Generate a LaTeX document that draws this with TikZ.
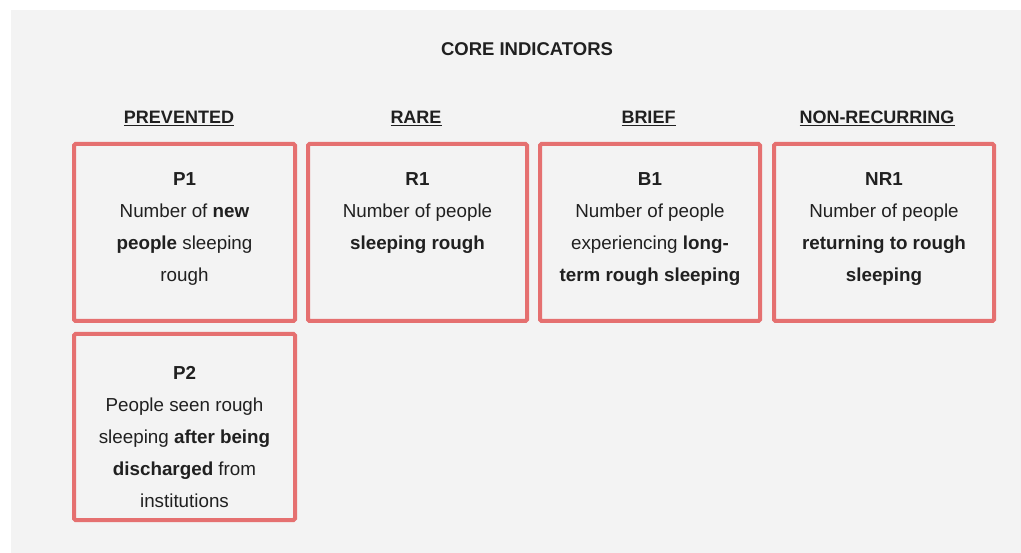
\documentclass[tikz,border=0pt]{standalone}
\usepackage{fontspec}
\setmainfont{Liberation Sans}
\definecolor{bggray}{HTML}{F3F3F3}
\definecolor{boxred}{RGB}{229,112,112}
\definecolor{txt}{HTML}{202020}
\begin{document}
\begin{tikzpicture}[x=1pt,y=-1pt,
  card/.style={draw=boxred, line width=4pt, rounded corners=1.5pt},
  cardtext/.style={anchor=north, align=center, inner sep=0pt, text=txt,
    font=\fontsize{18.8}{32}\selectfont},
  colhead/.style={anchor=base, inner sep=0pt, text=txt,
    font=\fontsize{18}{20}\selectfont\bfseries},
  title/.style={anchor=base, inner sep=0pt, text=txt,
    font=\fontsize{18.5}{20}\selectfont\bfseries}]
\useasboundingbox (0,0) rectangle (1021,553);
\fill[white] (0,0) rectangle (1021,553);
\fill[bggray] (11,10) rectangle (1021,553);

\node[title] (core) at (527,55.5) {CORE INDICATORS};

\node[colhead] (hP) at (179,123.5) {\underline{PREVENTED}};
\node[colhead] (hR) at (416,123.5) {\underline{RARE}};
\node[colhead] (hB) at (648.5,123.5) {\underline{BRIEF}};
\node[colhead] (hN) at (877,123.5) {\underline{NON-RECURRING}};

\draw[card] (74,144) rectangle (295,321);
\draw[card] (308,144) rectangle (527,321);
\draw[card] (540,144) rectangle (760,321);
\draw[card] (774,144) rectangle (994,321);
\draw[card] (74,334) rectangle (295,520);

\node[cardtext] (p1) at (184.5,172) {\textbf{P1}\\Number of \textbf{new}\\\textbf{people} sleeping\\rough};
\node[cardtext] (r1) at (417.5,172) {\textbf{R1}\\Number of people\\\textbf{sleeping rough}};
\node[cardtext] (b1) at (650,172) {\textbf{B1}\\Number of people\\experiencing \textbf{long-}\\\textbf{term rough sleeping}};
\node[cardtext] (nr1) at (884,172) {\textbf{NR1}\\Number of people\\\textbf{returning to rough}\\\textbf{sleeping}};
\node[cardtext] (p2) at (184.5,366) {\textbf{P2}\\People seen rough\\sleeping \textbf{after being}\\\textbf{discharged} from\\institutions};
\end{tikzpicture}
\end{document}
